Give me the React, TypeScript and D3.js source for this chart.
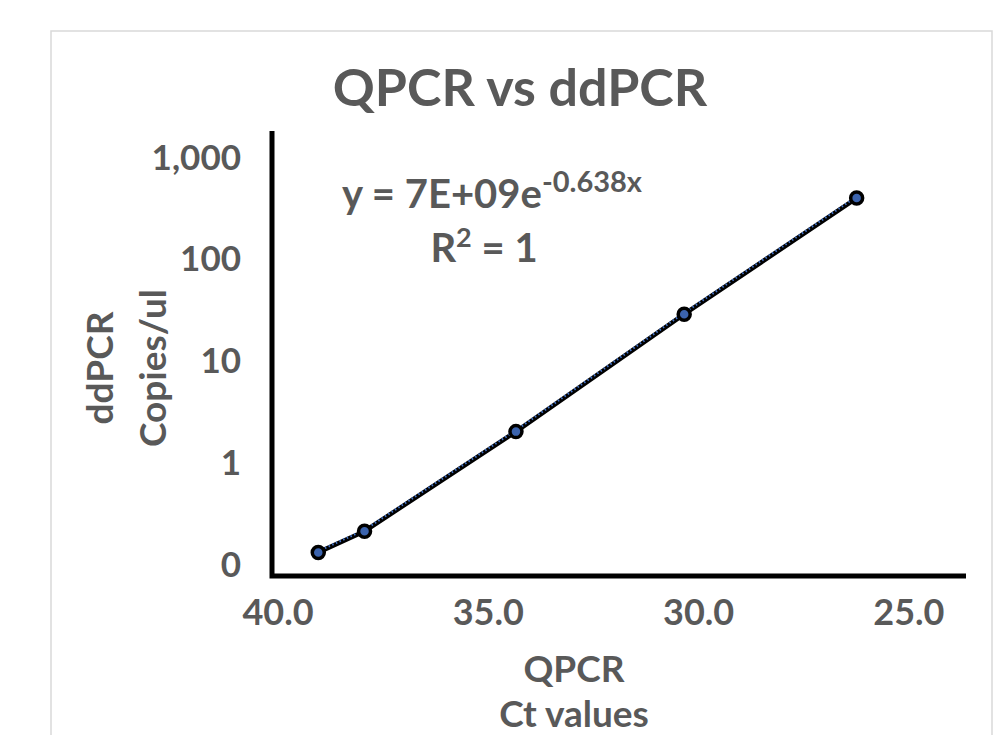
import * as d3 from 'd3';
import { useEffect, useRef } from 'react';

// qPCR Ct vs ddPCR copies/ul
const ctValues = [38.9, 37.8, 34.2, 30.2, 26.1];
const copiesPerUl = [0.13, 0.21, 2.0, 28.5, 395];

const xTickValues = [40, 35, 30, 25];
const xDomain = [40, 23.5];
const yTickValues = [0.1, 1, 10, 100, 1000];
const yTickLabels = ['0', '1', '10', '100', '1,000'];

const chartTitle = 'QPCR vs ddPCR';
const yTitleLines = ['ddPCR', 'Copies/ul'];
const xTitleLines = ['QPCR', 'Ct values'];
const equationMain = 'y = 7E+09e';
const equationExp = '-0.638x';

export default function App() {
    const ref = useRef<SVGSVGElement | null>(null);

    useEffect(() => {
        document.body.style.margin = '0';
        const svg = d3.select(ref.current);
        svg.selectAll('*').remove();

        const width = 1004;
        const height = 735;
        const font = 'Lato, "Open Sans", sans-serif';
        const textColor = '#595959';

        const x = d3.scaleLinear().domain(xDomain).range([272, 966]);
        const y = d3.scaleLog().domain([0.1, 1000]).range([564, 157]);
        const axisBottom = 576;
        const axisTop = 131;

        svg.attr('width', width).attr('height', height);

        svg.append('rect')
            .attr('x', 51).attr('y', 31)
            .attr('width', 941).attr('height', 740)
            .attr('fill', '#fff')
            .attr('stroke', '#d9d9d9')
            .attr('stroke-width', 1.5);

        svg.append('text')
            .attr('x', 520).attr('y', 106)
            .attr('text-anchor', 'middle')
            .attr('font-family', font)
            .attr('font-weight', 700)
            .attr('font-size', 52)
            .attr('fill', textColor)
            .text(chartTitle);

        // tick labels
        svg.append('g').selectAll('text')
            .data(yTickValues)
            .join('text')
            .attr('x', 241)
            .attr('y', d => y(d))
            .attr('dy', '0.36em')
            .attr('text-anchor', 'end')
            .attr('font-family', font)
            .attr('font-weight', 700)
            .attr('font-size', 35)
            .attr('fill', textColor)
            .text((d, i) => yTickLabels[i]);

        svg.append('g').selectAll('text')
            .data(xTickValues)
            .join('text')
            .attr('x', d => x(d) + 6)
            .attr('y', 612)
            .attr('dy', '0.36em')
            .attr('text-anchor', 'middle')
            .attr('font-family', font)
            .attr('font-weight', 700)
            .attr('font-size', 36)
            .attr('fill', textColor)
            .text(d => d.toFixed(1));

        // axis titles
        const yTitle = svg.append('text')
            .attr('transform', 'translate(0,368) rotate(-90)')
            .attr('text-anchor', 'middle')
            .attr('font-family', font)
            .attr('font-weight', 700)
            .attr('font-size', 37)
            .attr('fill', textColor);
        yTitle.selectAll('tspan')
            .data(yTitleLines)
            .join('tspan')
            .attr('x', 0)
            .attr('y', (d, i) => 113 + i * 53)
            .text(d => d);

        svg.append('g').selectAll('text')
            .data(xTitleLines)
            .join('text')
            .attr('x', 574)
            .attr('y', (d, i) => 682 + i * 45)
            .attr('text-anchor', 'middle')
            .attr('font-family', font)
            .attr('font-weight', 700)
            .attr('font-size', 37)
            .attr('fill', textColor)
            .text(d => d);

        // axes lines
        svg.append('path')
            .attr('d', `M${x(xDomain[0])},${axisTop}V${axisBottom}H${x(xDomain[1])}`)
            .attr('fill', 'none')
            .attr('stroke', '#000')
            .attr('stroke-width', 5);

        const points = ctValues.map((c, i) => ({ ct: c, copies: copiesPerUl[i] }));

        const line = d3.line<any>()
            .x(d => x(d.ct))
            .y(d => y(d.copies));

        svg.append('path')
            .datum(points)
            .attr('fill', 'none')
            .attr('stroke', '#000')
            .attr('stroke-width', 4.5)
            .attr('d', line);

        // trendline (dotted)
        svg.append('path')
            .datum(points)
            .attr('fill', 'none')
            .attr('stroke', '#4472c4')
            .attr('stroke-width', 2.2)
            .attr('stroke-dasharray', '1.5,2.5')
            .attr('transform', 'translate(-0.6,-1)')
            .attr('d', line);

        svg.append('g').selectAll('circle')
            .data(points)
            .join('circle')
            .attr('cx', d => x(d.ct))
            .attr('cy', d => y(d.copies))
            .attr('r', 6)
            .attr('fill', '#3b63ad')
            .attr('stroke', '#000')
            .attr('stroke-width', 3.5);

        // equation label
        const eq = svg.append('text')
            .attr('x', 492).attr('y', 208)
            .attr('text-anchor', 'middle')
            .attr('font-family', font)
            .attr('font-weight', 700)
            .attr('font-size', 40)
            .attr('fill', textColor);
        eq.append('tspan').text(equationMain);
        eq.append('tspan')
            .attr('dy', -16)
            .attr('font-size', 29)
            .text(equationExp);

        const r2 = svg.append('text')
            .attr('x', 484).attr('y', 262)
            .attr('text-anchor', 'middle')
            .attr('font-family', font)
            .attr('font-weight', 700)
            .attr('font-size', 40)
            .attr('fill', textColor);
        r2.append('tspan').text('R');
        r2.append('tspan').attr('dy', -15).attr('font-size', 27).text('2');
        r2.append('tspan').attr('dy', 15).text(' = 1');
    }, []);

    return <svg id="qpcr-chart" ref={ref} style={{ display: 'block' }}></svg>;
}
